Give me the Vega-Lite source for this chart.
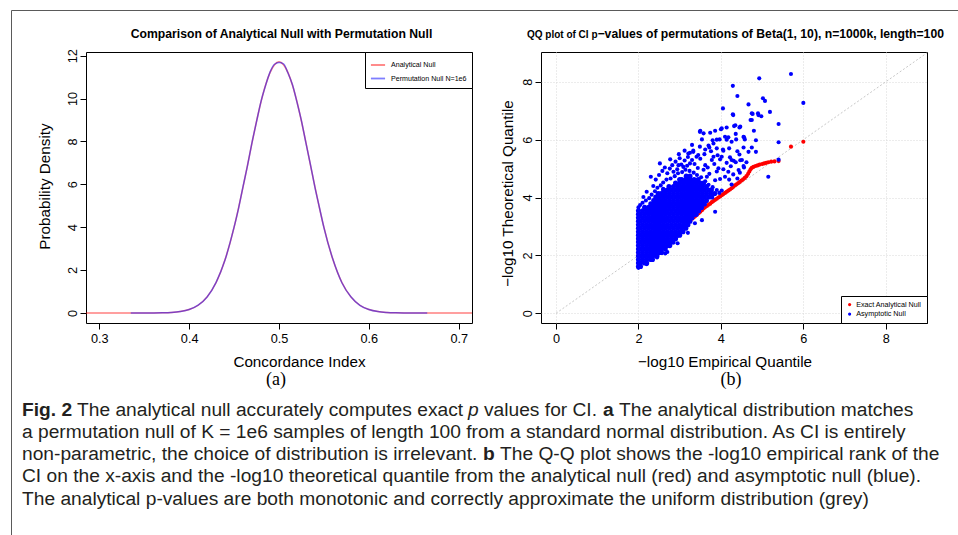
{
"$schema": "https://vega.github.io/schema/vega-lite/v6.json",
"padding": {"left": 11, "top": 10, "right": 0, "bottom": 0},
"background": "white",
"columns": 2,
"bounds": "flush",
"spacing": {"row": 30, "column": 69},
"resolve": {"scale": {"color": "independent"}, "legend": {"color": "independent"}},
"config": {
 "font": "Liberation Sans",
 "view": {"stroke": null},
 "axis": {"labelColor": "black", "titleColor": "black", "tickColor": "black", "labelFont": "Liberation Sans", "titleFont": "Liberation Sans", "titleFontWeight": "normal", "labelFontSize": 12.7, "titleFontSize": 15.25, "tickSize": 6, "domain": false, "grid": false, "labelFlush": false, "labelOverlap": false},
 "legend": {"labelFont": "Liberation Sans", "labelColor": "black"},
 "title": {"color": "black"}
},
"concat": [
 {
  "width": 386, "height": 271,
  "view": {"stroke": "black", "strokeWidth": 1},
  "title": {"text": "(a)", "orient": "bottom", "anchor": "middle", "font": "Liberation Serif", "fontSize": 18, "fontWeight": "normal", "offset": 2, "dx": -3},
  "layer": [
   {
    "data": {"values": [
     {"x":0.28,"y":0},{"x":0.3,"y":0},{"x":0.32,"y":0},{"x":0.34,"y":0},{"x":0.35,"y":0.001},{"x":0.36,"y":0.002},{"x":0.37,"y":0.008},{"x":0.38,"y":0.024},{"x":0.39,"y":0.065},{"x":0.4,"y":0.16},{"x":0.41,"y":0.36},{"x":0.42,"y":0.75},{"x":0.43,"y":1.42},{"x":0.44,"y":2.49},{"x":0.45,"y":3.99},{"x":0.455,"y":4.9},{"x":0.46,"y":5.88},{"x":0.465,"y":6.9},{"x":0.47,"y":7.94},{"x":0.475,"y":8.94},{"x":0.48,"y":9.85},{"x":0.485,"y":10.62},{"x":0.49,"y":11.21},{"x":0.495,"y":11.58},{"x":0.5,"y":11.72},{"x":0.505,"y":11.58},{"x":0.51,"y":11.21},{"x":0.515,"y":10.62},{"x":0.52,"y":9.85},{"x":0.525,"y":8.94},{"x":0.53,"y":7.94},{"x":0.535,"y":6.9},{"x":0.54,"y":5.88},{"x":0.545,"y":4.9},{"x":0.55,"y":3.99},{"x":0.56,"y":2.49},{"x":0.57,"y":1.42},{"x":0.58,"y":0.75},{"x":0.59,"y":0.36},{"x":0.6,"y":0.16},{"x":0.61,"y":0.065},{"x":0.62,"y":0.024},{"x":0.63,"y":0.008},{"x":0.64,"y":0.002},{"x":0.65,"y":0.001},{"x":0.66,"y":0},{"x":0.68,"y":0},{"x":0.7,"y":0},{"x":0.72,"y":0}
    ]},
    "mark": {"type": "line", "strokeWidth": 1.5, "opacity": 0.5, "interpolate": "monotone", "clip": true},
    "encoding": {
     "x": {"field": "x", "type": "quantitative", "scale": {"domain": [0.2852, 0.7148], "nice": false, "zero": false},
       "axis": {"values": [0.3,0.4,0.5,0.6,0.7], "format": ".1f", "title": "Concordance Index", "labelBaseline": "alphabetic", "labelPadding": 13, "titleX": 213, "titleY": 43, "titleBaseline": "alphabetic"}},
     "y": {"field": "y", "type": "quantitative", "scale": {"domain": [-0.468, 12.17], "nice": false, "zero": false},
       "axis": {"values": [0,2,4,6,8,10,12], "title": "Probability Density", "labelAngle": 270, "labelAlign": "center", "labelBaseline": "alphabetic", "labelPadding": 4, "titleX": -34, "titleY": 134, "titleBaseline": "bottom", "titleAngle": 270}},
     "color": {"datum": "Analytical Null", "type": "nominal", "scale": {"domain": ["Analytical Null", "Permutation Null N=1e6"], "range": ["#FF0000", "#0000FF"]},
       "legend": {"title": null, "orient": "top-right", "offset": 0, "strokeColor": "black", "fillColor": "white", "padding": 5, "labelFontSize": 7.1, "symbolType": "stroke", "symbolSize": 200, "symbolStrokeWidth": 1.8, "symbolOpacity": 0.5, "rowPadding": 1.5, "labelOffset": 5, "cornerRadius": 0}}
    }
   },
   {
    "data": {"values": [
     {"x":0.335,"y":0},{"x":0.35,"y":0.001},{"x":0.36,"y":0.003},{"x":0.37,"y":0.009},{"x":0.38,"y":0.025},{"x":0.39,"y":0.066},{"x":0.4,"y":0.158},{"x":0.41,"y":0.362},{"x":0.42,"y":0.748},{"x":0.43,"y":1.43},{"x":0.44,"y":2.48},{"x":0.45,"y":4.0},{"x":0.455,"y":4.88},{"x":0.46,"y":5.9},{"x":0.465,"y":6.88},{"x":0.47,"y":7.96},{"x":0.475,"y":8.92},{"x":0.48,"y":9.87},{"x":0.485,"y":10.6},{"x":0.49,"y":11.23},{"x":0.495,"y":11.6},{"x":0.5,"y":11.68},{"x":0.505,"y":11.62},{"x":0.51,"y":11.19},{"x":0.515,"y":10.64},{"x":0.52,"y":9.83},{"x":0.525,"y":8.96},{"x":0.53,"y":7.92},{"x":0.535,"y":6.92},{"x":0.54,"y":5.86},{"x":0.545,"y":4.92},{"x":0.55,"y":3.98},{"x":0.56,"y":2.5},{"x":0.57,"y":1.41},{"x":0.58,"y":0.752},{"x":0.59,"y":0.358},{"x":0.6,"y":0.162},{"x":0.61,"y":0.064},{"x":0.62,"y":0.024},{"x":0.63,"y":0.008},{"x":0.64,"y":0.003},{"x":0.65,"y":0.001},{"x":0.665,"y":0}
    ]},
    "mark": {"type": "line", "strokeWidth": 1.5, "opacity": 0.5, "interpolate": "monotone", "clip": true},
    "encoding": {
     "x": {"field": "x", "type": "quantitative",
       "axis": {"orient": "top", "title": "Comparison of Analytical Null with Permutation Null", "labels": false, "ticks": false, "domain": false, "grid": false, "titleFontWeight": "bold", "titleFontSize": 12.2, "titleX": 195, "titleY": -15, "titleBaseline": "alphabetic", "titleAlign": "center"}},
     "y": {"field": "y", "type": "quantitative",
       "axis": {"values": [0,2,4,6,8,10,12], "title": "Probability Density", "labelAngle": 270, "labelAlign": "center", "labelBaseline": "alphabetic", "labelPadding": 4, "titleX": -34, "titleY": 134, "titleBaseline": "bottom", "titleAngle": 270}},
     "color": {"datum": "Permutation Null N=1e6", "type": "nominal"}
    }
   }
  ],
  "resolve": {"axis": {"x": "independent"}}
 },
 {
  "width": 386, "height": 271,
  "view": {"stroke": "black", "strokeWidth": 1},
  "title": {"text": "(b)", "orient": "bottom", "anchor": "middle", "font": "Liberation Serif", "fontSize": 18, "fontWeight": "normal", "offset": 2, "dx": -3},
  "layer": [
   {
    "data": {"values": [{"x": 0, "y": 0, "x2": 9, "y2": 9}]},
    "mark": {"type": "rule", "color": "#C8C8C8", "strokeDash": [2, 2], "strokeWidth": 1},
    "encoding": {
     "x": {"field": "x", "type": "quantitative", "scale": {"domain": [-0.364, 9.0], "nice": false, "zero": false},
       "axis": {"orient": "top", "title": "QQ plot of CI p", "labels": false, "ticks": false, "domain": false, "grid": false, "titleFontWeight": "bold", "titleFontSize": 10, "titleX": 56, "titleY": -15, "titleAlign": "right", "titleBaseline": "alphabetic"}},
     "y": {"field": "y", "type": "quantitative", "scale": {"domain": [-0.335, 9.03], "nice": false, "zero": false},
       "axis": {"values": [0,2,4,6,8], "format": "d", "title": "−log10 Theoretical Quantile", "grid": true, "gridColor": "#D8D8D8", "gridDash": [1,2], "labelAngle": 270, "labelAlign": "center", "labelBaseline": "alphabetic", "labelPadding": 4, "titleX": -26, "titleY": 141, "titleBaseline": "bottom", "titleAngle": 270}},
     "x2": {"field": "x2"},
     "y2": {"field": "y2"}
    }
   },
   {
    "data": {"values": [
     {"x":2,"y":2},{"x":2.2,"y":2.2},{"x":2.4,"y":2.4},{"x":2.6,"y":2.6},{"x":2.8,"y":2.8},{"x":3,"y":3},{"x":3.1,"y":3.08},{"x":3.2,"y":3.17},{"x":3.26,"y":3.23},{"x":3.3,"y":3.27},{"x":3.34,"y":3.31},{"x":3.38,"y":3.36},{"x":3.42,"y":3.41},{"x":3.46,"y":3.46},{"x":3.5,"y":3.51},{"x":3.54,"y":3.56},{"x":3.58,"y":3.62},{"x":3.62,"y":3.67},{"x":3.66,"y":3.71},{"x":3.7,"y":3.75},{"x":3.74,"y":3.79},{"x":3.78,"y":3.84},{"x":3.82,"y":3.88},{"x":3.86,"y":3.92},{"x":3.9,"y":3.96},{"x":3.94,"y":4},{"x":3.98,"y":4.04},{"x":4.02,"y":4.08},{"x":4.06,"y":4.12},{"x":4.1,"y":4.16},{"x":4.14,"y":4.2},{"x":4.18,"y":4.24},{"x":4.22,"y":4.28},{"x":4.26,"y":4.32},{"x":4.3,"y":4.37},{"x":4.34,"y":4.42},{"x":4.38,"y":4.46},{"x":4.42,"y":4.5},{"x":4.46,"y":4.54},{"x":4.5,"y":4.59},{"x":4.54,"y":4.63},{"x":4.58,"y":4.68},{"x":4.62,"y":4.74},{"x":4.66,"y":4.82},{"x":4.69,"y":4.9},{"x":4.72,"y":4.98},{"x":4.75,"y":5.03},{"x":4.79,"y":5.06},{"x":4.84,"y":5.09},{"x":4.89,"y":5.11},{"x":4.94,"y":5.14},{"x":5,"y":5.16},{"x":5.05,"y":5.18},{"x":5.1,"y":5.2},{"x":5.15,"y":5.22},{"x":5.22,"y":5.24},{"x":5.3,"y":5.25},{"x":5.4,"y":5.26},{"x":5.7,"y":5.76},{"x":6,"y":5.93}
    ]},
    "mark": {"type": "circle", "size": 17, "opacity": 1},
    "encoding": {
     "x": {"field": "x", "type": "quantitative",
       "axis": {"orient": "top", "title": "−values of permutations of Beta(1, 10), n=1000k, length=100", "labels": false, "ticks": false, "domain": false, "grid": false, "titleFontWeight": "bold", "titleFontSize": 12.2, "titleX": 56, "titleY": -15, "titleAlign": "left", "titleBaseline": "alphabetic"}},
     "y": {"field": "y", "type": "quantitative",
       "axis": {"values": [0,2,4,6,8], "format": "d", "title": "−log10 Theoretical Quantile", "grid": true, "gridColor": "#D8D8D8", "gridDash": [1,2], "labelAngle": 270, "labelAlign": "center", "labelBaseline": "alphabetic", "labelPadding": 4, "titleX": -26, "titleY": 141, "titleBaseline": "bottom", "titleAngle": 270}},
     "color": {"datum": "Exact Analytical Null", "type": "nominal", "scale": {"domain": ["Exact Analytical Null", "Asymptotic Null"], "range": ["#FF0000", "#0000FF"]},
       "legend": {"title": null, "orient": "bottom-right", "offset": 0, "strokeColor": "black", "fillColor": "white", "padding": 5, "labelFontSize": 7.2, "symbolSize": 10, "rowPadding": 1.5, "labelOffset": 3, "cornerRadius": 0}}
    }
   },
   {
    "data": {"values": [
     {"x":2,"y":1.62},{"x":2.05,"y":1.62},
     {"x":2,"y":1.74},{"x":2.05,"y":1.74},{"x":2.15,"y":1.74},{"x":2.2,"y":1.74},
     {"x":2,"y":1.86},{"x":2.1,"y":1.86},{"x":2.2,"y":1.86},{"x":2.3,"y":1.86},{"x":2.34,"y":1.86},
     {"x":2,"y":1.98},{"x":2.05,"y":1.98},{"x":2.15,"y":1.98},{"x":2.25,"y":1.98},{"x":2.35,"y":1.98},{"x":2.45,"y":1.98},
     {"x":2,"y":2.1},{"x":2.1,"y":2.1},{"x":2.2,"y":2.1},{"x":2.3,"y":2.1},{"x":2.4,"y":2.1},{"x":2.5,"y":2.1},{"x":2.56,"y":2.1},
     {"x":2,"y":2.22},{"x":2.05,"y":2.22},{"x":2.15,"y":2.22},{"x":2.25,"y":2.22},{"x":2.35,"y":2.22},{"x":2.45,"y":2.22},{"x":2.55,"y":2.22},{"x":2.65,"y":2.22},
     {"x":2,"y":2.34},{"x":2.1,"y":2.34},{"x":2.2,"y":2.34},{"x":2.3,"y":2.34},{"x":2.4,"y":2.34},{"x":2.5,"y":2.34},{"x":2.6,"y":2.34},{"x":2.7,"y":2.34},{"x":2.76,"y":2.34},
     {"x":2,"y":2.46},{"x":2.05,"y":2.46},{"x":2.15,"y":2.46},{"x":2.25,"y":2.46},{"x":2.35,"y":2.46},{"x":2.45,"y":2.46},{"x":2.55,"y":2.46},{"x":2.65,"y":2.46},{"x":2.75,"y":2.46},{"x":2.84,"y":2.46},
     {"x":2,"y":2.58},{"x":2.1,"y":2.58},{"x":2.2,"y":2.58},{"x":2.3,"y":2.58},{"x":2.4,"y":2.58},{"x":2.5,"y":2.58},{"x":2.6,"y":2.58},{"x":2.7,"y":2.58},{"x":2.8,"y":2.58},{"x":2.9,"y":2.58},
     {"x":2,"y":2.7},{"x":2.05,"y":2.7},{"x":2.15,"y":2.7},{"x":2.25,"y":2.7},{"x":2.35,"y":2.7},{"x":2.45,"y":2.7},{"x":2.55,"y":2.7},{"x":2.65,"y":2.7},{"x":2.75,"y":2.7},{"x":2.85,"y":2.7},{"x":2.95,"y":2.7},{"x":3,"y":2.7},
     {"x":2,"y":2.82},{"x":2.1,"y":2.82},{"x":2.2,"y":2.82},{"x":2.3,"y":2.82},{"x":2.4,"y":2.82},{"x":2.5,"y":2.82},{"x":2.6,"y":2.82},{"x":2.7,"y":2.82},{"x":2.8,"y":2.82},{"x":2.9,"y":2.82},{"x":3,"y":2.82},{"x":3.08,"y":2.82},
     {"x":2,"y":2.94},{"x":2.05,"y":2.94},{"x":2.15,"y":2.94},{"x":2.25,"y":2.94},{"x":2.35,"y":2.94},{"x":2.45,"y":2.94},{"x":2.55,"y":2.94},{"x":2.65,"y":2.94},{"x":2.75,"y":2.94},{"x":2.85,"y":2.94},{"x":2.95,"y":2.94},{"x":3.05,"y":2.94},{"x":3.15,"y":2.94},
     {"x":2,"y":3.06},{"x":2.1,"y":3.06},{"x":2.2,"y":3.06},{"x":2.3,"y":3.06},{"x":2.4,"y":3.06},{"x":2.5,"y":3.06},{"x":2.6,"y":3.06},{"x":2.7,"y":3.06},{"x":2.8,"y":3.06},{"x":2.9,"y":3.06},{"x":3,"y":3.06},{"x":3.1,"y":3.06},{"x":3.2,"y":3.06},
     {"x":2,"y":3.18},{"x":2.05,"y":3.18},{"x":2.15,"y":3.18},{"x":2.25,"y":3.18},{"x":2.35,"y":3.18},{"x":2.45,"y":3.18},{"x":2.55,"y":3.18},{"x":2.65,"y":3.18},{"x":2.75,"y":3.18},{"x":2.85,"y":3.18},{"x":2.95,"y":3.18},{"x":3.05,"y":3.18},{"x":3.15,"y":3.18},{"x":3.25,"y":3.18},
     {"x":2,"y":3.3},{"x":2.1,"y":3.3},{"x":2.2,"y":3.3},{"x":2.3,"y":3.3},{"x":2.4,"y":3.3},{"x":2.5,"y":3.3},{"x":2.6,"y":3.3},{"x":2.7,"y":3.3},{"x":2.8,"y":3.3},{"x":2.9,"y":3.3},{"x":3,"y":3.3},{"x":3.1,"y":3.3},{"x":3.2,"y":3.3},{"x":3.3,"y":3.3},
     {"x":2,"y":3.42},{"x":2.05,"y":3.42},{"x":2.15,"y":3.42},{"x":2.25,"y":3.42},{"x":2.35,"y":3.42},{"x":2.45,"y":3.42},{"x":2.55,"y":3.42},{"x":2.65,"y":3.42},{"x":2.75,"y":3.42},{"x":2.85,"y":3.42},{"x":2.95,"y":3.42},{"x":3.05,"y":3.42},{"x":3.15,"y":3.42},{"x":3.25,"y":3.42},{"x":3.35,"y":3.42},{"x":3.4,"y":3.42},
     {"x":2,"y":3.54},{"x":2.1,"y":3.54},{"x":2.2,"y":3.54},{"x":2.3,"y":3.54},{"x":2.4,"y":3.54},{"x":2.5,"y":3.54},{"x":2.6,"y":3.54},{"x":2.7,"y":3.54},{"x":2.8,"y":3.54},{"x":2.9,"y":3.54},{"x":3,"y":3.54},{"x":3.1,"y":3.54},{"x":3.2,"y":3.54},{"x":3.3,"y":3.54},{"x":3.4,"y":3.54},{"x":3.46,"y":3.54},
     {"x":2.15,"y":3.66},{"x":2.25,"y":3.66},{"x":2.35,"y":3.66},{"x":2.45,"y":3.66},{"x":2.55,"y":3.66},{"x":2.65,"y":3.66},{"x":2.75,"y":3.66},{"x":2.85,"y":3.66},{"x":2.95,"y":3.66},{"x":3.05,"y":3.66},{"x":3.15,"y":3.66},{"x":3.25,"y":3.66},{"x":3.35,"y":3.66},{"x":3.45,"y":3.66},{"x":3.53,"y":3.66},
     {"x":2.3,"y":3.78},{"x":2.4,"y":3.78},{"x":2.5,"y":3.78},{"x":2.6,"y":3.78},{"x":2.7,"y":3.78},{"x":2.8,"y":3.78},{"x":2.9,"y":3.78},{"x":3,"y":3.78},{"x":3.1,"y":3.78},{"x":3.2,"y":3.78},{"x":3.3,"y":3.78},{"x":3.4,"y":3.78},{"x":3.5,"y":3.78},{"x":3.6,"y":3.78},
     {"x":2.37,"y":3.9},{"x":2.45,"y":3.9},{"x":2.55,"y":3.9},{"x":2.65,"y":3.9},{"x":2.75,"y":3.9},{"x":2.85,"y":3.9},{"x":2.95,"y":3.9},{"x":3.05,"y":3.9},{"x":3.15,"y":3.9},{"x":3.25,"y":3.9},{"x":3.35,"y":3.9},{"x":3.45,"y":3.9},{"x":3.55,"y":3.9},{"x":3.65,"y":3.9},
     {"x":2.42,"y":4.02},{"x":2.5,"y":4.02},{"x":2.6,"y":4.02},{"x":2.7,"y":4.02},{"x":2.8,"y":4.02},{"x":2.9,"y":4.02},{"x":3,"y":4.02},{"x":3.1,"y":4.02},{"x":3.2,"y":4.02},{"x":3.3,"y":4.02},{"x":3.4,"y":4.02},{"x":3.5,"y":4.02},{"x":3.6,"y":4.02},{"x":3.7,"y":4.02},{"x":3.78,"y":4.02},
     {"x":2.48,"y":4.14},{"x":2.55,"y":4.14},{"x":2.65,"y":4.14},{"x":2.75,"y":4.14},{"x":2.85,"y":4.14},{"x":2.95,"y":4.14},{"x":3.05,"y":4.14},{"x":3.15,"y":4.14},{"x":3.25,"y":4.14},{"x":3.35,"y":4.14},{"x":3.45,"y":4.14},{"x":3.55,"y":4.14},{"x":3.65,"y":4.14},{"x":3.75,"y":4.14},{"x":3.85,"y":4.14},
     {"x":2.61,"y":4.26},{"x":2.7,"y":4.26},{"x":2.8,"y":4.26},{"x":2.9,"y":4.26},{"x":3,"y":4.26},{"x":3.1,"y":4.26},{"x":3.2,"y":4.26},{"x":3.3,"y":4.26},{"x":3.4,"y":4.26},{"x":3.5,"y":4.26},{"x":3.6,"y":4.26},{"x":3.7,"y":4.26},{"x":3.77,"y":4.26},
     {"x":2.74,"y":4.38},{"x":2.85,"y":4.38},{"x":2.95,"y":4.38},{"x":3.05,"y":4.38},{"x":3.15,"y":4.38},{"x":3.25,"y":4.38},{"x":3.35,"y":4.38},{"x":3.45,"y":4.38},{"x":3.55,"y":4.38},{"x":3.65,"y":4.38},
     {"x":2.9,"y":4.5},{"x":3,"y":4.5},{"x":3.1,"y":4.5},{"x":3.2,"y":4.5},{"x":3.3,"y":4.5},{"x":3.4,"y":4.5},{"x":3.5,"y":4.5},{"x":3.58,"y":4.5},
     {"x":3,"y":4.62},{"x":3.05,"y":4.62},{"x":3.15,"y":4.62},{"x":3.25,"y":4.62},{"x":3.35,"y":4.62},{"x":3.45,"y":4.62},
     {"x":3.16,"y":4.74},{"x":3.25,"y":4.74}
    ]},
    "mark": {"type": "circle", "size": 26, "opacity": 1},
    "encoding": {
     "x": {"field": "x", "type": "quantitative", "axis": null},
     "y": {"field": "y", "type": "quantitative",
       "axis": {"values": [0,2,4,6,8], "format": "d", "title": "−log10 Theoretical Quantile", "grid": true, "gridColor": "#D8D8D8", "gridDash": [1,2], "labelAngle": 270, "labelAlign": "center", "labelBaseline": "alphabetic", "labelPadding": 4, "titleX": -26, "titleY": 141, "titleBaseline": "bottom", "titleAngle": 270}},
     "color": {"datum": "Asymptotic Null", "type": "nominal"}
    }
   },
   {
    "data": {"values": [
     {"x":2,"y":3.66},{"x":2.04,"y":3.74},{"x":2.1,"y":3.82},{"x":2.18,"y":3.9},{"x":2.26,"y":3.98},{"x":2.32,"y":4.1},{"x":2.4,"y":4.22},{"x":2.46,"y":4.34},{"x":2.54,"y":4.42},{"x":2.6,"y":4.52},{"x":2.68,"y":4.62},{"x":2.78,"y":4.66},{"x":2.88,"y":4.74},{"x":2.96,"y":4.84},{"x":3.06,"y":4.88},{"x":3.14,"y":4.96},{"x":3.24,"y":4.92},{"x":3.34,"y":4.86},{"x":3.42,"y":4.78},{"x":3.52,"y":4.7},{"x":3.62,"y":4.56},{"x":3.7,"y":4.44},{"x":3.8,"y":4.36},{"x":3.9,"y":4.26},{"x":3.96,"y":4.16},
     {"x":2.3,"y":4.72},{"x":2.52,"y":5.18},{"x":2.77,"y":5.32},{"x":2.85,"y":4.89},{"x":2.97,"y":5.12},{"x":3.09,"y":5.06},{"x":3.21,"y":5.52},{"x":3.33,"y":5.58},{"x":3.41,"y":5.41},{"x":3.25,"y":5.18},{"x":3.49,"y":5.76},{"x":3.54,"y":6.01},{"x":3.49,"y":6.27},{"x":3.74,"y":6.24},{"x":3.82,"y":5.87},{"x":4.02,"y":6.39},{"x":4.1,"y":6.1},{"x":4.26,"y":5.93},{"x":4.35,"y":6.5},{"x":4.47,"y":6.45},{"x":4.55,"y":6.1},{"x":4.67,"y":5.58},{"x":4.51,"y":5.3},{"x":4.26,"y":5.3},{"x":4.02,"y":5.41},{"x":3.78,"y":5.3},{"x":3.62,"y":5.12},{"x":3.94,"y":5.01},{"x":4.18,"y":4.89},{"x":4.43,"y":4.95},{"x":4.1,"y":4.72},{"x":3.86,"y":4.6},{"x":3.66,"y":4.72},{"x":4.26,"y":4.45},{"x":4.02,"y":4.24},{"x":3.86,"y":3.51},{"x":5.15,"y":4.72},{"x":4.3,"y":6.85},{"x":4.75,"y":6.91},{"x":4.91,"y":6.85},{"x":5.19,"y":6.96},{"x":4.75,"y":6.68},{"x":2.65,"y":2.07},{"x":3.37,"y":3.11},
     {"x":2.42,"y":4.62},{"x":2.5,"y":4.78},{"x":2.58,"y":4.92},{"x":2.64,"y":5.04},{"x":2.7,"y":4.84},{"x":2.76,"y":5.0},{"x":2.82,"y":5.12},{"x":2.9,"y":5.24},{"x":2.94,"y":4.98},{"x":3.0,"y":5.36},{"x":3.04,"y":5.14},{"x":3.12,"y":5.28},{"x":3.18,"y":5.1},{"x":3.2,"y":5.4},{"x":3.3,"y":5.3},{"x":3.36,"y":5.16},{"x":3.44,"y":5.02},{"x":3.5,"y":5.34},{"x":3.58,"y":4.96},{"x":3.6,"y":5.5},{"x":3.68,"y":5.04},{"x":3.72,"y":4.82},{"x":3.76,"y":5.6},{"x":3.84,"y":5.16},{"x":3.9,"y":4.9},{"x":3.92,"y":5.46},{"x":3.98,"y":4.64},{"x":4.06,"y":4.98},{"x":4.14,"y":5.2},{"x":4.2,"y":4.62},{"x":4.24,"y":5.08},{"x":4.3,"y":4.8},{"x":4.36,"y":5.22},{"x":4.4,"y":4.66},{"x":4.46,"y":4.86},{"x":4.56,"y":5.04},{"x":4.62,"y":5.22},{"x":4.06,"y":5.62},{"x":4.2,"y":5.7},{"x":4.4,"y":5.6},{"x":3.7,"y":5.8},{"x":3.9,"y":6.0},{"x":4.14,"y":6.0},{"x":4.36,"y":6.2},{"x":3.3,"y":5.82},{"x":3.12,"y":5.62},{"x":2.98,"y":5.5},{"x":2.6,"y":4.3},{"x":2.36,"y":4.4},{"x":2.2,"y":4.2},{"x":2.12,"y":4.02},
     {"x":3.54,"y":3.22},{"x":3.2,"y":2.78},{"x":2.95,"y":2.42},{"x":2.7,"y":2.12},{"x":2.45,"y":1.93},{"x":2.2,"y":1.7},{"x":2,"y":1.57},
     {"x":4.93,"y":8.12},{"x":5.7,"y":8.27},{"x":4.29,"y":7.86},{"x":4.4,"y":7.51},{"x":5.02,"y":7.43},{"x":5.07,"y":7.34},{"x":4.67,"y":7.22},{"x":6,"y":7.27},{"x":4.05,"y":7.08},{"x":4.9,"y":6.91},{"x":4.77,"y":6.89},{"x":4.29,"y":6.88},{"x":4.98,"y":6.81},{"x":4.72,"y":6.68},{"x":5.4,"y":6.54},{"x":3.5,"y":6.31},{"x":3.58,"y":6.22},{"x":3.86,"y":6.31},{"x":4,"y":6.36},{"x":4.32,"y":6.47},{"x":4.45,"y":6.42},{"x":4.14,"y":6.42},{"x":4.56,"y":6.08},{"x":4.8,"y":6.31},{"x":4.58,"y":6.01},{"x":4.37,"y":6.01},{"x":4.18,"y":6.08},{"x":3.97,"y":6.01},{"x":3.8,"y":5.98},{"x":4.85,"y":5.98},{"x":5.4,"y":5.91},{"x":4.55,"y":5.73},{"x":4.75,"y":5.73},{"x":4.85,"y":5.58},{"x":4.45,"y":5.49},{"x":4.05,"y":5.66},{"x":3.9,"y":5.7},{"x":3.72,"y":5.73},{"x":3.62,"y":5.66},{"x":3.33,"y":5.62},{"x":3.25,"y":5.55},{"x":3.45,"y":5.47},{"x":3.82,"y":5.41},{"x":4.22,"y":5.39},{"x":3.98,"y":5.32},{"x":4.31,"y":5.27},{"x":4.47,"y":5.29},{"x":4.55,"y":5.09},{"x":5.4,"y":5.31}
    ]},
    "mark": {"type": "circle", "size": 17, "opacity": 1},
    "encoding": {
     "x": {"field": "x", "type": "quantitative",
       "axis": {"orient": "bottom", "values": [0,2,4,6,8], "format": "d", "title": "−log10 Empirical Quantile", "grid": true, "gridColor": "#D8D8D8", "gridDash": [1,2], "labelBaseline": "alphabetic", "labelPadding": 13, "titleX": 183.5, "titleY": 43, "titleBaseline": "alphabetic"}},
     "y": {"field": "y", "type": "quantitative",
       "axis": {"values": [0,2,4,6,8], "format": "d", "title": "−log10 Theoretical Quantile", "grid": true, "gridColor": "#D8D8D8", "gridDash": [1,2], "labelAngle": 270, "labelAlign": "center", "labelBaseline": "alphabetic", "labelPadding": 4, "titleX": -26, "titleY": 141, "titleBaseline": "bottom", "titleAngle": 270}},
     "color": {"datum": "Asymptotic Null", "type": "nominal"}
    }
   }
  ],
  "resolve": {"axis": {"x": "independent"}}
 },
 {
  "width": 386, "height": 150,
  "data": {"values": [
   {"id":1,"line":1,"t":"Fig. 2"},
   {"id":2,"line":1,"t":"The analytical null accurately computes exact"},
   {"id":3,"line":1,"t":"p"},
   {"id":4,"line":1,"t":"values for CI."},
   {"id":5,"line":1,"t":"a"},
   {"id":6,"line":1,"t":"The analytical distribution matches"},
   {"id":7,"line":2,"t":"a permutation null of K = 1e6 samples of length 100 from a standard normal distribution. As CI is entirely"},
   {"id":8,"line":3,"t":"non-parametric, the choice of distribution is irrelevant."},
   {"id":9,"line":3,"t":"b"},
   {"id":10,"line":3,"t":"The Q-Q plot shows the -log10 empirical rank of the"},
   {"id":11,"line":4,"t":"CI on the x-axis and the -log10 theoretical quantile from the analytical null (red) and asymptotic null (blue)."},
   {"id":12,"line":5,"t":"The analytical p-values are both monotonic and correctly approximate the uniform distribution (grey)"}
  ]},
  "encoding": {
   "x": {"datum": -64, "type": "quantitative", "scale": {"domain": [-75, 900], "range": [-75, 900], "nice": false, "zero": false},
     "axis": {"orient": "top", "offset": 343, "domain": true, "domainColor": "#5a5a5a", "domainWidth": 1, "ticks": false, "labels": false, "grid": false, "title": null}},
   "y": {"field": "line", "type": "quantitative", "scale": {"domain": [-17.18, 6.6], "range": [-343, 187.5], "nice": false, "zero": false},
     "axis": {"orient": "left", "offset": 75, "domain": true, "domainColor": "#5a5a5a", "domainWidth": 1, "ticks": false, "labels": false, "grid": false, "title": null}},
   "text": {"field": "t"}
  },
  "layer": [
   {"transform": [{"filter": "datum.id == 7 || datum.id == 8 || datum.id == 11 || datum.id == 12"}], "mark": {"type": "text", "align": "left", "baseline": "alphabetic", "font": "Liberation Sans", "fontSize": 19.2, "color": "#231F20"}},
   {"transform": [{"filter": "datum.id == 1"}], "mark": {"type": "text", "align": "left", "baseline": "alphabetic", "font": "Liberation Sans", "fontSize": 19.2, "fontWeight": "bold", "color": "#231F20"}},
   {"transform": [{"filter": "datum.id == 2"}], "mark": {"type": "text", "align": "left", "baseline": "alphabetic", "font": "Liberation Sans", "fontSize": 19.2, "color": "#231F20", "dx": 55}},
   {"transform": [{"filter": "datum.id == 3"}], "mark": {"type": "text", "align": "left", "baseline": "alphabetic", "font": "Liberation Sans", "fontSize": 19.2, "fontStyle": "italic", "color": "#231F20", "dx": 446}},
   {"transform": [{"filter": "datum.id == 4"}], "mark": {"type": "text", "align": "left", "baseline": "alphabetic", "font": "Liberation Sans", "fontSize": 19.2, "color": "#231F20", "dx": 462}},
   {"transform": [{"filter": "datum.id == 5"}], "mark": {"type": "text", "align": "left", "baseline": "alphabetic", "font": "Liberation Sans", "fontSize": 19.2, "fontWeight": "bold", "color": "#231F20", "dx": 581}},
   {"transform": [{"filter": "datum.id == 6"}], "mark": {"type": "text", "align": "left", "baseline": "alphabetic", "font": "Liberation Sans", "fontSize": 19.2, "color": "#231F20", "dx": 597}},
   {"transform": [{"filter": "datum.id == 9"}], "mark": {"type": "text", "align": "left", "baseline": "alphabetic", "font": "Liberation Sans", "fontSize": 19.2, "fontWeight": "bold", "color": "#231F20", "dx": 461}},
   {"transform": [{"filter": "datum.id == 10"}], "mark": {"type": "text", "align": "left", "baseline": "alphabetic", "font": "Liberation Sans", "fontSize": 19.2, "color": "#231F20", "dx": 478}}
  ]
 }
]
}
